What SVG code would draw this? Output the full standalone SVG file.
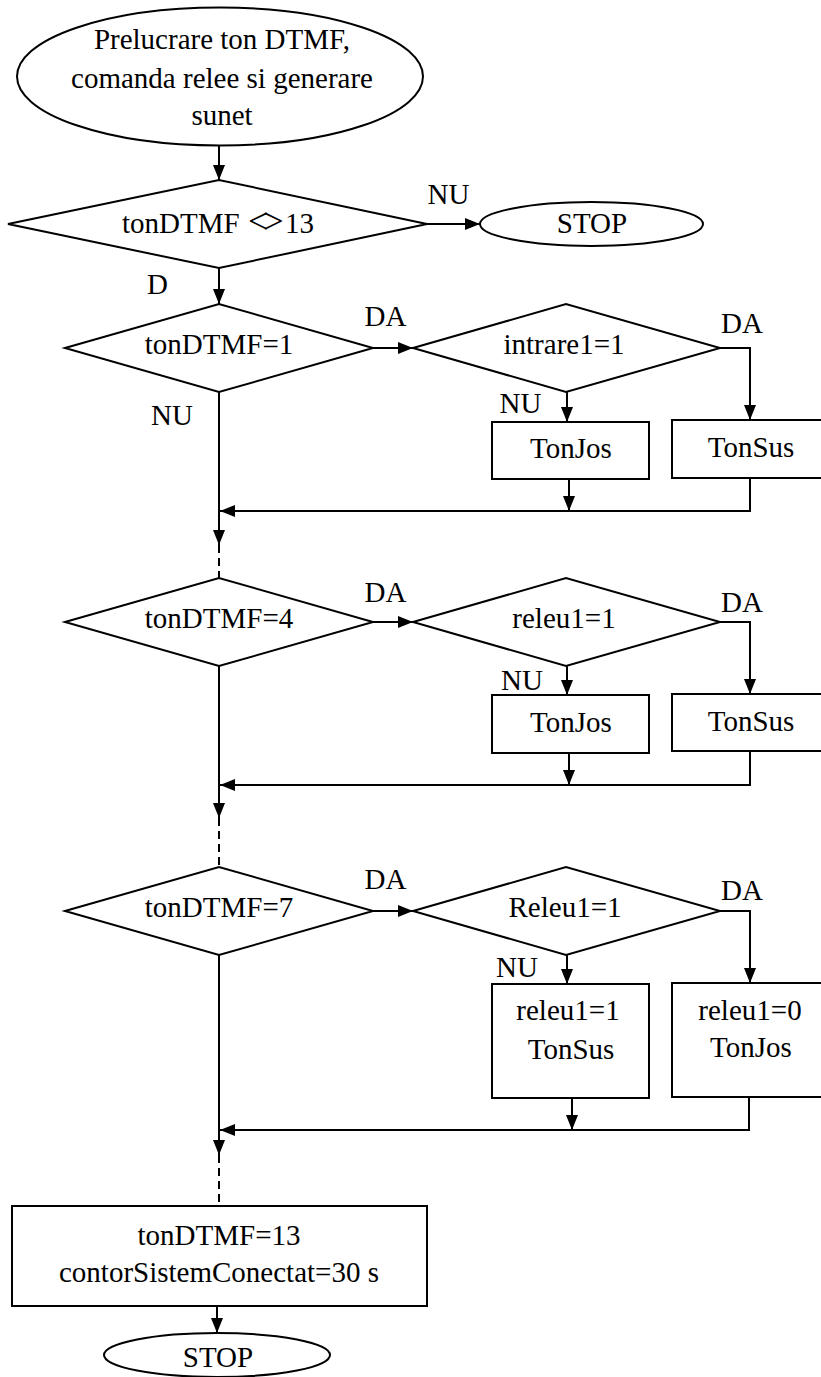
<svg xmlns="http://www.w3.org/2000/svg" width="821" height="1377" viewBox="0 0 821 1377">
<style>
.s{fill:#fff;stroke:#000;stroke-width:2}
.t{font-family:"Liberation Serif","Times New Roman",serif;font-size:29px;fill:#000;text-anchor:middle}
.c{fill:none;stroke:#000;stroke-width:2}
.d{fill:none;stroke:#000;stroke-width:2;stroke-dasharray:8 5}
</style>
<defs>
<marker id="ah" viewBox="0 0 15 12" refX="15" refY="6" markerWidth="15" markerHeight="12" markerUnits="userSpaceOnUse" orient="auto"><path d="M0,0 L15,6 L0,12 z" fill="#000"/></marker>
</defs>
<rect width="821" height="1377" fill="#fff"/>

<g id="connectors">
<path class="c" d="M219,146 V180" marker-end="url(#ah)"/>
<path class="c" d="M427,224 H480" marker-end="url(#ah)"/>
<path class="c" d="M219,268 V304" marker-end="url(#ah)"/>
<path class="c" d="M373,348 H413" marker-end="url(#ah)"/>
<path class="c" d="M720,348 H750 V420" marker-end="url(#ah)"/>
<path class="c" d="M567,392 V422" marker-end="url(#ah)"/>
<path class="c" d="M569,479 V511" marker-end="url(#ah)"/>
<path class="c" d="M750,478 V511 H220" marker-end="url(#ah)"/>
<path class="c" d="M219,392 V545" marker-end="url(#ah)"/>
<path class="d" d="M219,545 V578"/>
<path class="c" d="M373,622 H413" marker-end="url(#ah)"/>
<path class="c" d="M720,622 H750 V694" marker-end="url(#ah)"/>
<path class="c" d="M567,666 V695" marker-end="url(#ah)"/>
<path class="c" d="M569,753 V785" marker-end="url(#ah)"/>
<path class="c" d="M750,751 V785 H220" marker-end="url(#ah)"/>
<path class="c" d="M219,666 V818" marker-end="url(#ah)"/>
<path class="d" d="M219,818 V867"/>
<path class="c" d="M373,911 H413" marker-end="url(#ah)"/>
<path class="c" d="M720,911 H750 V983" marker-end="url(#ah)"/>
<path class="c" d="M567,955 V984" marker-end="url(#ah)"/>
<path class="c" d="M572,1098 V1130" marker-end="url(#ah)"/>
<path class="c" d="M749,1097 V1130 H220" marker-end="url(#ah)"/>
<path class="c" d="M219,955 V1155" marker-end="url(#ah)"/>
<path class="d" d="M219,1155 V1206"/>
<path class="c" d="M217,1306 V1333" marker-end="url(#ah)"/>
</g>

<g id="start">
<ellipse class="s" cx="220" cy="76.5" rx="203" ry="69"/>
<text class="t" x="222" y="49">Prelucrare ton DTMF,</text>
<text class="t" x="222" y="88">comanda relee si generare</text>
<text class="t" x="222" y="125">sunet</text>
</g>

<g id="cond13">
<polygon class="s" points="8,224 219,180 427,224 219,268"/>
<text class="t" style="text-anchor:start" y="233"><tspan x="122">tonDTMF</tspan><tspan x="248" font-size="36" letter-spacing="-5">&lt;&gt;</tspan><tspan x="285">13</tspan></text>
</g>

<g id="stop1">
<ellipse class="s" cx="591.5" cy="224" rx="111.5" ry="22"/>
<text class="t" x="592" y="233">STOP</text>
</g>

<g id="labels">
<text class="t" x="448.5" y="204">NU</text>
<text class="t" x="157.5" y="294">D</text>
<text class="t" x="385.5" y="326">DA</text>
<text class="t" x="742" y="333">DA</text>
<text class="t" x="520.5" y="413">NU</text>
<text class="t" x="172" y="425">NU</text>
<text class="t" x="385.5" y="602">DA</text>
<text class="t" x="742" y="612">DA</text>
<text class="t" x="522" y="690">NU</text>
<text class="t" x="385.5" y="889">DA</text>
<text class="t" x="742" y="900">DA</text>
<text class="t" x="517" y="977">NU</text>
</g>

<g id="ton1">
<polygon class="s" points="65,348 219,304 373,348 219,392"/>
<text class="t" x="219" y="354">tonDTMF=1</text>
</g>
<g id="intrare1">
<polygon class="s" points="413,348 566,304 720,348 566,392"/>
<text class="t" x="564" y="354">intrare1=1</text>
</g>
<g id="tonjos1">
<rect class="s" x="492" y="422" width="157" height="57"/>
<text class="t" x="571" y="458">TonJos</text>
</g>
<g id="tonsus1">
<rect class="s" x="672" y="420" width="160" height="58"/>
<text class="t" x="751" y="457">TonSus</text>
</g>

<g id="ton4">
<polygon class="s" points="65,622 219,578 373,622 219,666"/>
<text class="t" x="219" y="628">tonDTMF=4</text>
</g>
<g id="releu1a">
<polygon class="s" points="413,622 566,578 720,622 566,666"/>
<text class="t" x="564" y="628">releu1=1</text>
</g>
<g id="tonjos2">
<rect class="s" x="492" y="695" width="157" height="58"/>
<text class="t" x="571" y="732">TonJos</text>
</g>
<g id="tonsus2">
<rect class="s" x="672" y="694" width="160" height="57"/>
<text class="t" x="751" y="731">TonSus</text>
</g>

<g id="ton7">
<polygon class="s" points="65,911 219,867 373,911 219,955"/>
<text class="t" x="219" y="917">tonDTMF=7</text>
</g>
<g id="releu1b">
<polygon class="s" points="413,911 566,867 720,911 566,955"/>
<text class="t" x="565" y="917">Releu1=1</text>
</g>
<g id="set1">
<rect class="s" x="492" y="984" width="157" height="114"/>
<text class="t" x="568" y="1020">releu1=1</text>
<text class="t" x="571" y="1059">TonSus</text>
</g>
<g id="set0">
<rect class="s" x="672" y="983" width="160" height="114"/>
<text class="t" x="750" y="1020">releu1=0</text>
<text class="t" x="751" y="1057">TonJos</text>
</g>

<g id="final">
<rect class="s" x="12" y="1206" width="415" height="100"/>
<text class="t" x="219" y="1245">tonDTMF=13</text>
<text class="t" x="219" y="1282">contorSistemConectat=30 s</text>
</g>
<g id="stop2">
<ellipse class="s" cx="217" cy="1355" rx="113" ry="22"/>
<text class="t" x="218" y="1367">STOP</text>
</g>
</svg>
